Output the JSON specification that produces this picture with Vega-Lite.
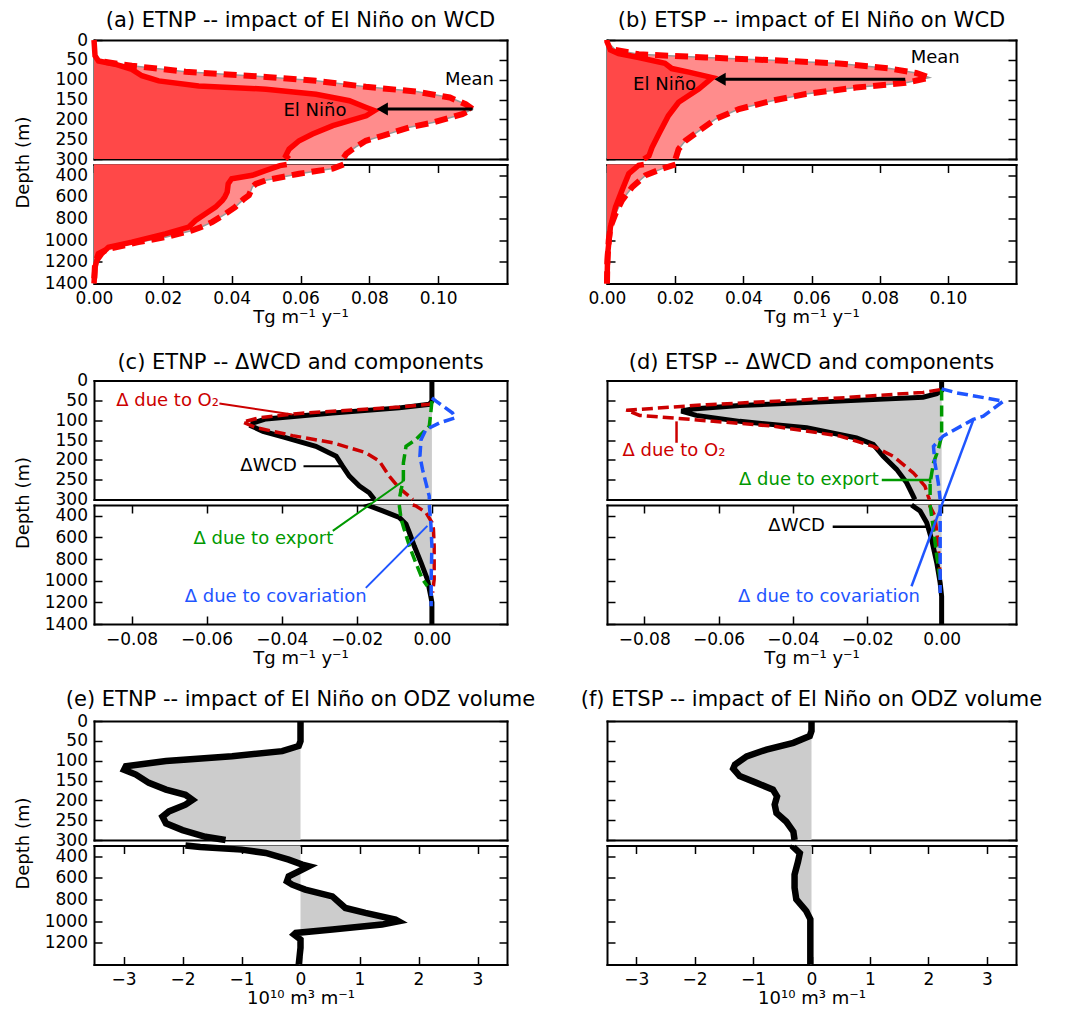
{
"$schema": "https://vega.github.io/schema/vega-lite/v6.json",
"padding": {"left": 14, "top": 10, "right": 5, "bottom": 5},
"background": "white",
"config": {
  "font": "DejaVu Sans",
  "view": {"stroke": null},
  "axis": {"domain": true, "domainColor": "black", "domainWidth": 2, "domainCap": "square", "grid": false, "tickSize": -8, "tickWidth": 1.5, "tickColor": "black", "labelFontSize": 17, "labelColor": "black", "labelFlush": false, "labelOverlap": false, "labelBound": false, "titleFontSize": 18, "titleFontWeight": "normal", "titleColor": "black", "zindex": 1},
  "axisY": {"labelPadding": 14.5},
  "axisX": {"labelPadding": 15, "titlePadding": 2},
  "title": {"fontSize": 21, "fontWeight": "normal", "color": "black", "frame": "group", "offset": -2, "anchor": "middle"},
  "text": {"fontSize": 18}
},
"datasets": {"rows": [
{"p":"a1","s":"mean","d":0,"v":0},{"p":"a1","s":"mean","d":45,"v":0},{"p":"a1","s":"mean","d":55,"v":0.003},{"p":"a1","s":"mean","d":65,"v":0.011},{"p":"a1","s":"mean","d":80,"v":0.0266},{"p":"a1","s":"mean","d":93,"v":0.05},{"p":"a1","s":"mean","d":103,"v":0.0645},{"p":"a1","s":"mean","d":118,"v":0.079},{"p":"a1","s":"mean","d":130,"v":0.0937},{"p":"a1","s":"mean","d":145,"v":0.1034},{"p":"a1","s":"mean","d":162,"v":0.108},{"p":"a1","s":"mean","d":174,"v":0.11},{"p":"a1","s":"mean","d":187,"v":0.107},{"p":"a1","s":"mean","d":208,"v":0.0985},{"p":"a1","s":"mean","d":220,"v":0.0917},{"p":"a1","s":"mean","d":241,"v":0.084},{"p":"a1","s":"mean","d":254,"v":0.079},{"p":"a1","s":"mean","d":270,"v":0.076},{"p":"a1","s":"mean","d":287,"v":0.0733},{"p":"a1","s":"mean","d":300,"v":0.0723},
{"p":"a1","s":"nino","d":0,"v":0},{"p":"a1","s":"nino","d":40,"v":0.0003},{"p":"a1","s":"nino","d":53,"v":0.0013},{"p":"a1","s":"nino","d":61,"v":0.0061},{"p":"a1","s":"nino","d":74,"v":0.011},{"p":"a1","s":"nino","d":90,"v":0.0139},{"p":"a1","s":"nino","d":103,"v":0.0188},{"p":"a1","s":"nino","d":116,"v":0.0304},{"p":"a1","s":"nino","d":124,"v":0.05},{"p":"a1","s":"nino","d":137,"v":0.0645},{"p":"a1","s":"nino","d":153,"v":0.0742},{"p":"a1","s":"nino","d":170,"v":0.0791},{"p":"a1","s":"nino","d":178,"v":0.0815},{"p":"a1","s":"nino","d":191,"v":0.0791},{"p":"a1","s":"nino","d":216,"v":0.0694},{"p":"a1","s":"nino","d":237,"v":0.0635},{"p":"a1","s":"nino","d":254,"v":0.0596},{"p":"a1","s":"nino","d":275,"v":0.0567},{"p":"a1","s":"nino","d":292,"v":0.0557},{"p":"a1","s":"nino","d":300,"v":0.0567},
{"p":"a2","s":"mean","d":300,"v":0.0725},{"p":"a2","s":"mean","d":338,"v":0.0694},{"p":"a2","s":"mean","d":385,"v":0.0596},{"p":"a2","s":"mean","d":415,"v":0.0548},{"p":"a2","s":"mean","d":446,"v":0.0499},{"p":"a2","s":"mean","d":480,"v":0.047},{"p":"a2","s":"mean","d":508,"v":0.046},{"p":"a2","s":"mean","d":550,"v":0.0455},{"p":"a2","s":"mean","d":585,"v":0.045},{"p":"a2","s":"mean","d":620,"v":0.0435},{"p":"a2","s":"mean","d":694,"v":0.041},{"p":"a2","s":"mean","d":760,"v":0.038},{"p":"a2","s":"mean","d":833,"v":0.0343},{"p":"a2","s":"mean","d":880,"v":0.031},{"p":"a2","s":"mean","d":910,"v":0.0285},{"p":"a2","s":"mean","d":972,"v":0.0207},{"p":"a2","s":"mean","d":1018,"v":0.0129},{"p":"a2","s":"mean","d":1080,"v":0.0042},{"p":"a2","s":"mean","d":1126,"v":0.0013},{"p":"a2","s":"mean","d":1219,"v":0.0003},{"p":"a2","s":"mean","d":1400,"v":0},
{"p":"a2","s":"nino","d":300,"v":0.056},{"p":"a2","s":"nino","d":310,"v":0.054},{"p":"a2","s":"nino","d":354,"v":0.05},{"p":"a2","s":"nino","d":400,"v":0.046},{"p":"a2","s":"nino","d":431,"v":0.04},{"p":"a2","s":"nino","d":477,"v":0.039},{"p":"a2","s":"nino","d":555,"v":0.0387},{"p":"a2","s":"nino","d":601,"v":0.038},{"p":"a2","s":"nino","d":632,"v":0.0373},{"p":"a2","s":"nino","d":694,"v":0.0353},{"p":"a2","s":"nino","d":755,"v":0.0324},{"p":"a2","s":"nino","d":817,"v":0.0295},{"p":"a2","s":"nino","d":879,"v":0.0275},{"p":"a2","s":"nino","d":941,"v":0.0207},{"p":"a2","s":"nino","d":1018,"v":0.011},{"p":"a2","s":"nino","d":1065,"v":0.0042},{"p":"a2","s":"nino","d":1126,"v":0.0022},{"p":"a2","s":"nino","d":1188,"v":0.0008},{"p":"a2","s":"nino","d":1250,"v":0.0003},{"p":"a2","s":"nino","d":1400,"v":0},
{"p":"b1","s":"mean","d":0,"v":0},{"p":"b1","s":"mean","d":4,"v":0},{"p":"b1","s":"mean","d":25,"v":0.0025},{"p":"b1","s":"mean","d":36,"v":0.0093},{"p":"b1","s":"mean","d":44,"v":0.029},{"p":"b1","s":"mean","d":51,"v":0.0485},{"p":"b1","s":"mean","d":59,"v":0.068},{"p":"b1","s":"mean","d":72,"v":0.083},{"p":"b1","s":"mean","d":83,"v":0.0907},{"p":"b1","s":"mean","d":95,"v":0.0946},{"p":"b1","s":"mean","d":108,"v":0.0877},{"p":"b1","s":"mean","d":120,"v":0.073},{"p":"b1","s":"mean","d":136,"v":0.0583},{"p":"b1","s":"mean","d":153,"v":0.0485},{"p":"b1","s":"mean","d":174,"v":0.0387},{"p":"b1","s":"mean","d":199,"v":0.0319},{"p":"b1","s":"mean","d":229,"v":0.027},{"p":"b1","s":"mean","d":254,"v":0.023},{"p":"b1","s":"mean","d":275,"v":0.021},{"p":"b1","s":"mean","d":300,"v":0.0201},
{"p":"b1","s":"nino","d":0,"v":0},{"p":"b1","s":"nino","d":4,"v":0},{"p":"b1","s":"nino","d":25,"v":0.001},{"p":"b1","s":"nino","d":34,"v":0.0034},{"p":"b1","s":"nino","d":44,"v":0.0093},{"p":"b1","s":"nino","d":59,"v":0.017},{"p":"b1","s":"nino","d":72,"v":0.019},{"p":"b1","s":"nino","d":81,"v":0.024},{"p":"b1","s":"nino","d":95,"v":0.0309},{"p":"b1","s":"nino","d":123,"v":0.027},{"p":"b1","s":"nino","d":157,"v":0.021},{"p":"b1","s":"nino","d":191,"v":0.018},{"p":"b1","s":"nino","d":237,"v":0.0152},{"p":"b1","s":"nino","d":271,"v":0.0132},{"p":"b1","s":"nino","d":292,"v":0.0123},{"p":"b1","s":"nino","d":300,"v":0.0108},
{"p":"b2","s":"mean","d":300,"v":0.0201},{"p":"b2","s":"mean","d":338,"v":0.0162},{"p":"b2","s":"mean","d":400,"v":0.0113},{"p":"b2","s":"mean","d":508,"v":0.0074},{"p":"b2","s":"mean","d":632,"v":0.0044},{"p":"b2","s":"mean","d":755,"v":0.0025},{"p":"b2","s":"mean","d":879,"v":0.001},{"p":"b2","s":"mean","d":1003,"v":0.0005},{"p":"b2","s":"mean","d":1200,"v":0.0001},{"p":"b2","s":"mean","d":1400,"v":0},
{"p":"b2","s":"nino","d":300,"v":0.0108},{"p":"b2","s":"nino","d":307,"v":0.0093},{"p":"b2","s":"nino","d":385,"v":0.0064},{"p":"b2","s":"nino","d":539,"v":0.0044},{"p":"b2","s":"nino","d":694,"v":0.0025},{"p":"b2","s":"nino","d":879,"v":0.001},{"p":"b2","s":"nino","d":1126,"v":0.0002},{"p":"b2","s":"nino","d":1400,"v":0},
{"p":"c1","s":"wcd","d":0,"v":0},{"p":"c1","s":"wcd","d":52,"v":0},{"p":"c1","s":"wcd","d":60,"v":-0.0007},{"p":"c1","s":"wcd","d":69,"v":-0.0087},{"p":"c1","s":"wcd","d":82,"v":-0.0264},{"p":"c1","s":"wcd","d":97,"v":-0.0442},{"p":"c1","s":"wcd","d":107,"v":-0.0477},{"p":"c1","s":"wcd","d":115,"v":-0.048},{"p":"c1","s":"wcd","d":128,"v":-0.045},{"p":"c1","s":"wcd","d":142,"v":-0.0397},{"p":"c1","s":"wcd","d":166,"v":-0.0309},{"p":"c1","s":"wcd","d":191,"v":-0.0255},{"p":"c1","s":"wcd","d":216,"v":-0.0238},{"p":"c1","s":"wcd","d":241,"v":-0.022},{"p":"c1","s":"wcd","d":266,"v":-0.0193},{"p":"c1","s":"wcd","d":283,"v":-0.0167},{"p":"c1","s":"wcd","d":300,"v":-0.0153},
{"p":"c1","s":"o2","d":58,"v":0},{"p":"c1","s":"o2","d":60,"v":-0.0007},{"p":"c1","s":"o2","d":67,"v":-0.0087},{"p":"c1","s":"o2","d":83,"v":-0.0353},{"p":"c1","s":"o2","d":94,"v":-0.046},{"p":"c1","s":"o2","d":105,"v":-0.0504},{"p":"c1","s":"o2","d":119,"v":-0.0468},{"p":"c1","s":"o2","d":139,"v":-0.0371},{"p":"c1","s":"o2","d":157,"v":-0.0264},{"p":"c1","s":"o2","d":182,"v":-0.0176},{"p":"c1","s":"o2","d":203,"v":-0.014},{"p":"c1","s":"o2","d":241,"v":-0.0114},{"p":"c1","s":"o2","d":271,"v":-0.0087},{"p":"c1","s":"o2","d":292,"v":-0.006},{"p":"c1","s":"o2","d":300,"v":-0.0051},
{"p":"c1","s":"exp","d":52,"v":0},{"p":"c1","s":"exp","d":82,"v":-0.0003},{"p":"c1","s":"exp","d":115,"v":-0.0007},{"p":"c1","s":"exp","d":149,"v":-0.0043},{"p":"c1","s":"exp","d":166,"v":-0.0069},{"p":"c1","s":"exp","d":208,"v":-0.0076},{"p":"c1","s":"exp","d":250,"v":-0.0076},{"p":"c1","s":"exp","d":275,"v":-0.0082},{"p":"c1","s":"exp","d":300,"v":-0.0087},
{"p":"c1","s":"cov","d":44,"v":0},{"p":"c1","s":"cov","d":52,"v":0.0011},{"p":"c1","s":"cov","d":82,"v":0.0055},{"p":"c1","s":"cov","d":94,"v":0.0062},{"p":"c1","s":"cov","d":107,"v":0.002},{"p":"c1","s":"cov","d":124,"v":-0.0016},{"p":"c1","s":"cov","d":149,"v":-0.0029},{"p":"c1","s":"cov","d":191,"v":-0.0032},{"p":"c1","s":"cov","d":224,"v":-0.0025},{"p":"c1","s":"cov","d":258,"v":-0.0016},{"p":"c1","s":"cov","d":292,"v":-0.0007},{"p":"c1","s":"cov","d":300,"v":-0.0007},
{"p":"c2","s":"wcd","d":300,"v":-0.016},{"p":"c2","s":"wcd","d":307,"v":-0.0167},{"p":"c2","s":"wcd","d":354,"v":-0.0131},{"p":"c2","s":"wcd","d":415,"v":-0.0087},{"p":"c2","s":"wcd","d":477,"v":-0.0069},{"p":"c2","s":"wcd","d":555,"v":-0.006},{"p":"c2","s":"wcd","d":679,"v":-0.0047},{"p":"c2","s":"wcd","d":833,"v":-0.0029},{"p":"c2","s":"wcd","d":988,"v":-0.0012},{"p":"c2","s":"wcd","d":1143,"v":-0.0003},{"p":"c2","s":"wcd","d":1200,"v":0},{"p":"c2","s":"wcd","d":1400,"v":0},
{"p":"c2","s":"o2","d":300,"v":-0.0051},{"p":"c2","s":"o2","d":307,"v":-0.0043},{"p":"c2","s":"o2","d":369,"v":-0.0016},{"p":"c2","s":"o2","d":462,"v":0},{"p":"c2","s":"o2","d":520,"v":0.0004},{"p":"c2","s":"o2","d":679,"v":0.0006},{"p":"c2","s":"o2","d":988,"v":0.0006},{"p":"c2","s":"o2","d":1080,"v":0.0003},{"p":"c2","s":"o2","d":1110,"v":0.0002},
{"p":"c2","s":"exp","d":300,"v":-0.0087},{"p":"c2","s":"exp","d":431,"v":-0.0082},{"p":"c2","s":"exp","d":524,"v":-0.0074},{"p":"c2","s":"exp","d":679,"v":-0.006},{"p":"c2","s":"exp","d":833,"v":-0.0043},{"p":"c2","s":"exp","d":988,"v":-0.0025},{"p":"c2","s":"exp","d":1050,"v":-0.0012},
{"p":"c2","s":"cov","d":300,"v":-0.0007},{"p":"c2","s":"cov","d":462,"v":-0.0003},{"p":"c2","s":"cov","d":679,"v":0},{"p":"c2","s":"cov","d":988,"v":-0.0002},{"p":"c2","s":"cov","d":1236,"v":-0.0002},
{"p":"d1","s":"wcd","d":0,"v":0},{"p":"d1","s":"wcd","d":25,"v":0},{"p":"d1","s":"wcd","d":33,"v":-0.0013},{"p":"d1","s":"wcd","d":42,"v":-0.005},{"p":"d1","s":"wcd","d":52,"v":-0.0274},{"p":"d1","s":"wcd","d":63,"v":-0.0543},{"p":"d1","s":"wcd","d":72,"v":-0.067},{"p":"d1","s":"wcd","d":77,"v":-0.07},{"p":"d1","s":"wcd","d":88,"v":-0.066},{"p":"d1","s":"wcd","d":103,"v":-0.0543},{"p":"d1","s":"wcd","d":119,"v":-0.0363},{"p":"d1","s":"wcd","d":145,"v":-0.0229},{"p":"d1","s":"wcd","d":161,"v":-0.0184},{"p":"d1","s":"wcd","d":191,"v":-0.0157},{"p":"d1","s":"wcd","d":224,"v":-0.0121},{"p":"d1","s":"wcd","d":258,"v":-0.0094},{"p":"d1","s":"wcd","d":292,"v":-0.0076},{"p":"d1","s":"wcd","d":300,"v":-0.0072},
{"p":"d1","s":"o2","d":23,"v":-0.0004},{"p":"d1","s":"o2","d":30,"v":-0.005},{"p":"d1","s":"o2","d":44,"v":-0.0274},{"p":"d1","s":"o2","d":61,"v":-0.0632},{"p":"d1","s":"o2","d":75,"v":-0.0848},{"p":"d1","s":"o2","d":88,"v":-0.0812},{"p":"d1","s":"o2","d":98,"v":-0.0677},{"p":"d1","s":"o2","d":115,"v":-0.0453},{"p":"d1","s":"o2","d":140,"v":-0.0274},{"p":"d1","s":"o2","d":166,"v":-0.0184},{"p":"d1","s":"o2","d":191,"v":-0.013},{"p":"d1","s":"o2","d":233,"v":-0.0076},{"p":"d1","s":"o2","d":266,"v":-0.0045},{"p":"d1","s":"o2","d":292,"v":-0.0036},{"p":"d1","s":"o2","d":300,"v":-0.0033},
{"p":"d1","s":"exp","d":23,"v":0},{"p":"d1","s":"exp","d":140,"v":0},{"p":"d1","s":"exp","d":174,"v":-0.0009},{"p":"d1","s":"exp","d":208,"v":-0.0022},{"p":"d1","s":"exp","d":258,"v":-0.0031},{"p":"d1","s":"exp","d":300,"v":-0.0031},
{"p":"d1","s":"cov","d":21,"v":0},{"p":"d1","s":"cov","d":31,"v":0.004},{"p":"d1","s":"cov","d":52,"v":0.0166},{"p":"d1","s":"cov","d":90,"v":0.0112},{"p":"d1","s":"cov","d":98,"v":0.0085},{"p":"d1","s":"cov","d":140,"v":0.0004},{"p":"d1","s":"cov","d":166,"v":-0.0022},{"p":"d1","s":"cov","d":208,"v":-0.0018},{"p":"d1","s":"cov","d":258,"v":-0.0009},{"p":"d1","s":"cov","d":300,"v":-0.0004},
{"p":"d2","s":"wcd","d":300,"v":-0.0081},{"p":"d2","s":"wcd","d":356,"v":-0.0058},{"p":"d2","s":"wcd","d":464,"v":-0.004},{"p":"d2","s":"wcd","d":618,"v":-0.0027},{"p":"d2","s":"wcd","d":835,"v":-0.0013},{"p":"d2","s":"wcd","d":1020,"v":-0.0004},{"p":"d2","s":"wcd","d":1144,"v":0},{"p":"d2","s":"wcd","d":1400,"v":0},
{"p":"d2","s":"o2","d":300,"v":-0.0033},{"p":"d2","s":"o2","d":402,"v":-0.0018},{"p":"d2","s":"o2","d":680,"v":-0.0009},{"p":"d2","s":"o2","d":958,"v":-0.0004},
{"p":"d2","s":"exp","d":300,"v":-0.0031},{"p":"d2","s":"exp","d":525,"v":-0.0022},{"p":"d2","s":"exp","d":773,"v":-0.0013},{"p":"d2","s":"exp","d":989,"v":-0.0004},
{"p":"d2","s":"cov","d":300,"v":-0.0004},{"p":"d2","s":"cov","d":680,"v":-0.0004},{"p":"d2","s":"cov","d":1113,"v":-0.0004},
{"p":"e1","s":"odz","d":0,"v":0},{"p":"e1","s":"odz","d":51,"v":0},{"p":"e1","s":"odz","d":63,"v":-0.03},{"p":"e1","s":"odz","d":76,"v":-0.31},{"p":"e1","s":"odz","d":89,"v":-1.16},{"p":"e1","s":"odz","d":101,"v":-2.28},{"p":"e1","s":"odz","d":114,"v":-2.96},{"p":"e1","s":"odz","d":123,"v":-2.99},{"p":"e1","s":"odz","d":135,"v":-2.79},{"p":"e1","s":"odz","d":156,"v":-2.57},{"p":"e1","s":"odz","d":173,"v":-2.28},{"p":"e1","s":"odz","d":186,"v":-1.95},{"p":"e1","s":"odz","d":199,"v":-1.83},{"p":"e1","s":"odz","d":211,"v":-1.95},{"p":"e1","s":"odz","d":228,"v":-2.23},{"p":"e1","s":"odz","d":241,"v":-2.34},{"p":"e1","s":"odz","d":258,"v":-2.28},{"p":"e1","s":"odz","d":275,"v":-2.0},{"p":"e1","s":"odz","d":292,"v":-1.61},{"p":"e1","s":"odz","d":300,"v":-1.27},
{"p":"e2","s":"odz","d":300,"v":-1.95},{"p":"e2","s":"odz","d":314,"v":-1.7},{"p":"e2","s":"odz","d":338,"v":-1.0},{"p":"e2","s":"odz","d":369,"v":-0.59},{"p":"e2","s":"odz","d":431,"v":-0.2},{"p":"e2","s":"odz","d":477,"v":0.03},{"p":"e2","s":"odz","d":492,"v":0.14},{"p":"e2","s":"odz","d":539,"v":-0.03},{"p":"e2","s":"odz","d":585,"v":-0.2},{"p":"e2","s":"odz","d":631,"v":-0.23},{"p":"e2","s":"odz","d":662,"v":-0.14},{"p":"e2","s":"odz","d":708,"v":0.08},{"p":"e2","s":"odz","d":770,"v":0.54},{"p":"e2","s":"odz","d":877,"v":0.76},{"p":"e2","s":"odz","d":923,"v":1.1},{"p":"e2","s":"odz","d":985,"v":1.61},{"p":"e2","s":"odz","d":1000,"v":1.66},{"p":"e2","s":"odz","d":1031,"v":1.38},{"p":"e2","s":"odz","d":1077,"v":0.54},{"p":"e2","s":"odz","d":1108,"v":-0.08},{"p":"e2","s":"odz","d":1123,"v":-0.11},{"p":"e2","s":"odz","d":1169,"v":0},{"p":"e2","s":"odz","d":1246,"v":0},{"p":"e2","s":"odz","d":1400,"v":-0.03},
{"p":"f1","s":"odz","d":0,"v":0},{"p":"f1","s":"odz","d":25,"v":0},{"p":"f1","s":"odz","d":38,"v":-0.03},{"p":"f1","s":"odz","d":55,"v":-0.31},{"p":"f1","s":"odz","d":72,"v":-0.77},{"p":"f1","s":"odz","d":89,"v":-1.11},{"p":"f1","s":"odz","d":110,"v":-1.31},{"p":"f1","s":"odz","d":120,"v":-1.34},{"p":"f1","s":"odz","d":139,"v":-1.23},{"p":"f1","s":"odz","d":156,"v":-0.94},{"p":"f1","s":"odz","d":173,"v":-0.66},{"p":"f1","s":"odz","d":190,"v":-0.59},{"p":"f1","s":"odz","d":211,"v":-0.63},{"p":"f1","s":"odz","d":232,"v":-0.6},{"p":"f1","s":"odz","d":254,"v":-0.43},{"p":"f1","s":"odz","d":279,"v":-0.31},{"p":"f1","s":"odz","d":300,"v":-0.29},
{"p":"f2","s":"odz","d":300,"v":-0.3},{"p":"f2","s":"odz","d":315,"v":-0.31},{"p":"f2","s":"odz","d":370,"v":-0.2},{"p":"f2","s":"odz","d":447,"v":-0.23},{"p":"f2","s":"odz","d":569,"v":-0.29},{"p":"f2","s":"odz","d":691,"v":-0.29},{"p":"f2","s":"odz","d":798,"v":-0.26},{"p":"f2","s":"odz","d":905,"v":-0.09},{"p":"f2","s":"odz","d":981,"v":-0.02},{"p":"f2","s":"odz","d":1119,"v":-0.02},{"p":"f2","s":"odz","d":1400,"v":-0.02},
{"p":"a1","k":"arrow","s":"note","v":0.11,"d":174,"v2":0.085,"d2":174},
{"p":"a1","k":"head","s":"note","v":0.082,"d":174},
{"p":"a1","k":"text","s":"note","t":"El Niño","v":0.0642,"d":178},
{"p":"a1","k":"text","s":"note","t":"Mean","v":0.1091,"d":100},
{"p":"b1","k":"arrow","s":"note","v":0.0875,"d":99,"v2":0.034,"d2":99},
{"p":"b1","k":"head","s":"note","v":0.0314,"d":99},
{"p":"b1","k":"text","s":"note","t":"El Niño","v":0.0169,"d":114},
{"p":"b1","k":"text","s":"note","t":"Mean","v":0.0963,"d":45},
{"p":"c1","k":"text","s":"o2","t":"Δ due to O₂","v":-0.0704,"d":52},
{"p":"c1","k":"lead","s":"o2","v":-0.0566,"d":58,"v2":-0.0371,"d2":86},
{"p":"c1","k":"text","s":"wcd","t":"ΔWCD","v":-0.0435,"d":216},
{"p":"c1","k":"lead","s":"wcd","v":-0.0342,"d":216,"v2":-0.0238,"d2":216},
{"p":"c2","k":"text","s":"exp","t":"Δ due to export","v":-0.0449,"d":617},
{"p":"c2","k":"lead","s":"exp","v":-0.0264,"d":539,"v2":-0.0076,"d2":78},
{"p":"c2","k":"text","s":"cov","t":"Δ due to covariation","v":-0.0416,"d":1152},
{"p":"c2","k":"lead","s":"cov","v":-0.0176,"d":1066,"v2":-0.0012,"d2":493},
{"p":"d1","k":"text","s":"o2","t":"Δ due to O₂","v":-0.072,"d":178},
{"p":"d1","k":"lead","s":"o2","v":-0.0713,"d":103,"v2":-0.0713,"d2":157},
{"p":"d1","k":"text","s":"exp","t":"Δ due to export","v":-0.0357,"d":251},
{"p":"d1","k":"lead","s":"exp","v":-0.0161,"d":251,"v2":-0.0031,"d2":251},
{"p":"d1","k":"lead","s":"exp","v":-0.0031,"d":245,"v2":-0.0031,"d2":259},
{"p":"d2","k":"text","s":"wcd","t":"ΔWCD","v":-0.039,"d":495},
{"p":"d2","k":"lead","s":"wcd","v":-0.0293,"d":501,"v2":-0.004,"d2":501},
{"p":"d2","k":"text","s":"cov","t":"Δ due to covariation","v":-0.0303,"d":1153},
{"p":"d2","k":"lead","s":"cov","v":-0.0081,"d":1051,"v2":0.0085,"d2":-485}
]},
"columns": 2,
"bounds": "flush",
"align": "each",
"spacing": {"row": 5.5, "column": 100},
"concat": [
{"width": 413, "height": 119, "title": {"text": "(a) ETNP -- impact of El Niño on WCD"},
 "data": {"name": "rows"}, "transform": [{"filter": "datum.p=='a1'"}],
 "resolve": {"axis": {"x": "independent", "y": "independent"}},
 "layer": [
  {"transform": [{"filter": "datum.s=='mean' && !datum.k"}], "mark": {"type": "area", "orient": "horizontal", "color": "#ff8c8c"},
   "encoding": {"y": {"field": "d", "type": "quantitative", "scale": {"domain": [0,300], "reverse": true, "nice": false, "zero": false}, "axis": {"orient": "left", "values": [0,50,100,150,200,250,300], "format": "d", "title": "Depth (m)", "titleX": -62, "titleY": 122}},
    "x": {"field": "v", "type": "quantitative", "stack": "zero", "scale": {"domain": [0,0.12], "nice": false, "zero": false}, "axis": {"orient": "bottom", "ticks": false, "labels": false, "title": null}}}},
  {"transform": [{"filter": "datum.s=='nino' && !datum.k"}], "mark": {"type": "area", "orient": "horizontal", "color": "#ff4848"},
   "encoding": {"y": {"field": "d", "type": "quantitative", "axis": {"orient": "right", "values": [0,50,100,150,200,250,300], "labels": false, "title": null}},
    "x": {"field": "v", "type": "quantitative", "stack": "zero", "axis": {"orient": "top", "ticks": false, "labels": false, "title": null}}}},
  {"transform": [{"filter": "datum.s=='mean' && !datum.k"}], "mark": {"type": "line", "orient": "horizontal", "color": "#999999", "strokeWidth": 1.5},
   "encoding": {"y": {"field": "d", "type": "quantitative", "axis": null}, "x": {"field": "v", "type": "quantitative", "axis": null}, "order": {"field": "d", "type": "quantitative"}}},
  {"transform": [{"filter": "datum.s=='mean' && !datum.k && datum.d>=55"}], "mark": {"type": "line", "orient": "horizontal", "color": "#ff0000", "strokeWidth": 6, "strokeDash": [13,7]},
   "encoding": {"y": {"field": "d", "type": "quantitative", "axis": null}, "x": {"field": "v", "type": "quantitative", "axis": null}, "order": {"field": "d", "type": "quantitative"}}},
  {"transform": [{"filter": "datum.s=='nino' && !datum.k"}], "mark": {"type": "line", "orient": "horizontal", "color": "#ff0000", "strokeWidth": 5.5},
   "encoding": {"y": {"field": "d", "type": "quantitative", "axis": null}, "x": {"field": "v", "type": "quantitative", "axis": null}, "order": {"field": "d", "type": "quantitative"}}},
  {"transform": [{"filter": "datum.k=='arrow'"}], "mark": {"type": "rule", "color": "black", "strokeWidth": 3},
   "encoding": {"y": {"field": "d", "type": "quantitative", "axis": null}, "y2": {"field": "d2"}, "x": {"field": "v", "type": "quantitative", "axis": null}, "x2": {"field": "v2"}}},
  {"transform": [{"filter": "datum.k=='head'"}], "mark": {"type": "point", "shape": "triangle-left", "size": 170, "filled": true, "opacity": 1, "color": "black", "xOffset": 6},
   "encoding": {"y": {"field": "d", "type": "quantitative", "axis": null}, "x": {"field": "v", "type": "quantitative", "axis": null}}},
  {"transform": [{"filter": "datum.k=='text'"}], "mark": {"type": "text", "fontSize": 18, "align": "center", "baseline": "middle", "color": "black"},
   "encoding": {"y": {"field": "d", "type": "quantitative", "axis": null}, "x": {"field": "v", "type": "quantitative", "axis": null}, "text": {"field": "t"}}}
 ]},
{"width": 409, "height": 119, "title": {"text": "(b) ETSP -- impact of El Niño on WCD"},
 "data": {"name": "rows"}, "transform": [{"filter": "datum.p=='b1'"}],
 "resolve": {"axis": {"x": "independent", "y": "independent"}},
 "layer": [
  {"transform": [{"filter": "datum.s=='mean' && !datum.k"}], "mark": {"type": "area", "orient": "horizontal", "color": "#ff8c8c"},
   "encoding": {"y": {"field": "d", "type": "quantitative", "scale": {"domain": [0,300], "reverse": true, "nice": false, "zero": false}, "axis": {"orient": "left", "values": [0,50,100,150,200,250,300], "labels": false, "title": null}},
    "x": {"field": "v", "type": "quantitative", "stack": "zero", "scale": {"domain": [0,0.12], "nice": false, "zero": false}, "axis": {"orient": "bottom", "ticks": false, "labels": false, "title": null}}}},
  {"transform": [{"filter": "datum.s=='nino' && !datum.k"}], "mark": {"type": "area", "orient": "horizontal", "color": "#ff4848"},
   "encoding": {"y": {"field": "d", "type": "quantitative", "axis": {"orient": "right", "values": [0,50,100,150,200,250,300], "labels": false, "title": null}},
    "x": {"field": "v", "type": "quantitative", "stack": "zero", "axis": {"orient": "top", "ticks": false, "labels": false, "title": null}}}},
  {"transform": [{"filter": "datum.s=='mean' && !datum.k"}], "mark": {"type": "line", "orient": "horizontal", "color": "#999999", "strokeWidth": 1.5},
   "encoding": {"y": {"field": "d", "type": "quantitative", "axis": null}, "x": {"field": "v", "type": "quantitative", "axis": null}, "order": {"field": "d", "type": "quantitative"}}},
  {"transform": [{"filter": "datum.s=='mean' && !datum.k && datum.d>=20"}], "mark": {"type": "line", "orient": "horizontal", "color": "#ff0000", "strokeWidth": 6, "strokeDash": [13,7]},
   "encoding": {"y": {"field": "d", "type": "quantitative", "axis": null}, "x": {"field": "v", "type": "quantitative", "axis": null}, "order": {"field": "d", "type": "quantitative"}}},
  {"transform": [{"filter": "datum.s=='nino' && !datum.k"}], "mark": {"type": "line", "orient": "horizontal", "color": "#ff0000", "strokeWidth": 5.5},
   "encoding": {"y": {"field": "d", "type": "quantitative", "axis": null}, "x": {"field": "v", "type": "quantitative", "axis": null}, "order": {"field": "d", "type": "quantitative"}}},
  {"transform": [{"filter": "datum.k=='arrow'"}], "mark": {"type": "rule", "color": "black", "strokeWidth": 3},
   "encoding": {"y": {"field": "d", "type": "quantitative", "axis": null}, "y2": {"field": "d2"}, "x": {"field": "v", "type": "quantitative", "axis": null}, "x2": {"field": "v2"}}},
  {"transform": [{"filter": "datum.k=='head'"}], "mark": {"type": "point", "shape": "triangle-left", "size": 170, "filled": true, "opacity": 1, "color": "black", "xOffset": 6},
   "encoding": {"y": {"field": "d", "type": "quantitative", "axis": null}, "x": {"field": "v", "type": "quantitative", "axis": null}}},
  {"transform": [{"filter": "datum.k=='text'"}], "mark": {"type": "text", "fontSize": 18, "align": "center", "baseline": "middle", "color": "black"},
   "encoding": {"y": {"field": "d", "type": "quantitative", "axis": null}, "x": {"field": "v", "type": "quantitative", "axis": null}, "text": {"field": "t"}}}
 ]},
{"width": 413, "height": 119,
 "data": {"name": "rows"}, "transform": [{"filter": "datum.p=='a2'"}],
 "resolve": {"axis": {"x": "independent", "y": "independent"}},
 "layer": [
  {"transform": [{"filter": "datum.s=='mean' && !datum.k"}], "mark": {"type": "area", "orient": "horizontal", "color": "#ff8c8c"},
   "encoding": {"y": {"field": "d", "type": "quantitative", "scale": {"domain": [300,1400], "reverse": true, "nice": false, "zero": false}, "axis": {"orient": "left", "values": [400,600,800,1000,1200,1400], "format": "d", "title": null}},
    "x": {"field": "v", "type": "quantitative", "stack": "zero", "scale": {"domain": [0,0.12], "nice": false, "zero": false}, "axis": {"orient": "bottom", "values": [0,0.02,0.04,0.06,0.08,0.1], "format": ".2f", "title": "Tg m⁻¹ y⁻¹"}}}},
  {"transform": [{"filter": "datum.s=='nino' && !datum.k"}], "mark": {"type": "area", "orient": "horizontal", "color": "#ff4848"},
   "encoding": {"y": {"field": "d", "type": "quantitative", "axis": {"orient": "right", "values": [400,600,800,1000,1200,1400], "labels": false, "title": null}},
    "x": {"field": "v", "type": "quantitative", "stack": "zero", "axis": {"orient": "top", "values": [0,0.02,0.04,0.06,0.08,0.1], "labels": false, "title": null}}}},
  {"transform": [{"filter": "datum.s=='mean' && !datum.k"}], "mark": {"type": "line", "orient": "horizontal", "color": "#999999", "strokeWidth": 1.5},
   "encoding": {"y": {"field": "d", "type": "quantitative", "axis": null}, "x": {"field": "v", "type": "quantitative", "axis": null}, "order": {"field": "d", "type": "quantitative"}}},
  {"transform": [{"filter": "datum.s=='mean' && !datum.k"}], "mark": {"type": "line", "orient": "horizontal", "color": "#ff0000", "strokeWidth": 6, "strokeDash": [13,7]},
   "encoding": {"y": {"field": "d", "type": "quantitative", "axis": null}, "x": {"field": "v", "type": "quantitative", "axis": null}, "order": {"field": "d", "type": "quantitative"}}},
  {"transform": [{"filter": "datum.s=='nino' && !datum.k"}], "mark": {"type": "line", "orient": "horizontal", "color": "#ff0000", "strokeWidth": 5.5},
   "encoding": {"y": {"field": "d", "type": "quantitative", "axis": null}, "x": {"field": "v", "type": "quantitative", "axis": null}, "order": {"field": "d", "type": "quantitative"}}}
 ]},
{"width": 409, "height": 119,
 "data": {"name": "rows"}, "transform": [{"filter": "datum.p=='b2'"}],
 "resolve": {"axis": {"x": "independent", "y": "independent"}},
 "layer": [
  {"transform": [{"filter": "datum.s=='mean' && !datum.k"}], "mark": {"type": "area", "orient": "horizontal", "color": "#ff8c8c"},
   "encoding": {"y": {"field": "d", "type": "quantitative", "scale": {"domain": [300,1400], "reverse": true, "nice": false, "zero": false}, "axis": {"orient": "left", "values": [400,600,800,1000,1200,1400], "labels": false, "title": null}},
    "x": {"field": "v", "type": "quantitative", "stack": "zero", "scale": {"domain": [0,0.12], "nice": false, "zero": false}, "axis": {"orient": "bottom", "values": [0,0.02,0.04,0.06,0.08,0.1], "format": ".2f", "title": "Tg m⁻¹ y⁻¹"}}}},
  {"transform": [{"filter": "datum.s=='nino' && !datum.k"}], "mark": {"type": "area", "orient": "horizontal", "color": "#ff4848"},
   "encoding": {"y": {"field": "d", "type": "quantitative", "axis": {"orient": "right", "values": [400,600,800,1000,1200,1400], "labels": false, "title": null}},
    "x": {"field": "v", "type": "quantitative", "stack": "zero", "axis": {"orient": "top", "values": [0,0.02,0.04,0.06,0.08,0.1], "labels": false, "title": null}}}},
  {"transform": [{"filter": "datum.s=='mean' && !datum.k"}], "mark": {"type": "line", "orient": "horizontal", "color": "#999999", "strokeWidth": 1.5},
   "encoding": {"y": {"field": "d", "type": "quantitative", "axis": null}, "x": {"field": "v", "type": "quantitative", "axis": null}, "order": {"field": "d", "type": "quantitative"}}},
  {"transform": [{"filter": "datum.s=='mean' && !datum.k"}], "mark": {"type": "line", "orient": "horizontal", "color": "#ff0000", "strokeWidth": 6, "strokeDash": [13,7]},
   "encoding": {"y": {"field": "d", "type": "quantitative", "axis": null}, "x": {"field": "v", "type": "quantitative", "axis": null}, "order": {"field": "d", "type": "quantitative"}}},
  {"transform": [{"filter": "datum.s=='nino' && !datum.k"}], "mark": {"type": "line", "orient": "horizontal", "color": "#ff0000", "strokeWidth": 5.5},
   "encoding": {"y": {"field": "d", "type": "quantitative", "axis": null}, "x": {"field": "v", "type": "quantitative", "axis": null}, "order": {"field": "d", "type": "quantitative"}}}
 ]},
{"width": 10, "height": 86, "data": {"values": [{"z": 0}]}, "mark": {"type": "point", "opacity": 0}, "encoding": {}},
{"width": 10, "height": 86, "data": {"values": [{"z": 0}]}, "mark": {"type": "point", "opacity": 0}, "encoding": {}},
{"width": 413, "height": 119, "title": {"text": "(c) ETNP -- ΔWCD and components"},
 "data": {"name": "rows"}, "transform": [{"filter": "datum.p=='c1'"}],
 "resolve": {"axis": {"x": "independent", "y": "independent"}},
 "layer": [
  {"transform": [{"filter": "datum.s=='wcd' && !datum.k"}], "mark": {"type": "area", "orient": "horizontal", "color": "#cccccc"},
   "encoding": {"y": {"field": "d", "type": "quantitative", "scale": {"domain": [0,300], "reverse": true, "nice": false, "zero": false}, "axis": {"orient": "left", "values": [0,50,100,150,200,250,300], "format": "d", "title": "Depth (m)", "titleX": -62, "titleY": 122}},
    "x": {"field": "v", "type": "quantitative", "stack": "zero", "scale": {"domain": [-0.09,0.02], "nice": false, "zero": false}, "axis": {"orient": "bottom", "ticks": false, "labels": false, "title": null}}}},
  {"transform": [{"filter": "datum.s=='wcd' && !datum.k"}], "mark": {"type": "line", "orient": "horizontal", "color": "black", "strokeWidth": 5},
   "encoding": {"y": {"field": "d", "type": "quantitative", "axis": {"orient": "right", "values": [0,50,100,150,200,250,300], "labels": false, "title": null}},
    "x": {"field": "v", "type": "quantitative", "axis": {"orient": "top", "ticks": false, "labels": false, "title": null}}, "order": {"field": "d", "type": "quantitative"}}},
  {"transform": [{"filter": "datum.s=='o2' && !datum.k"}], "mark": {"type": "line", "orient": "horizontal", "color": "#cc0000", "strokeWidth": 3.5, "strokeDash": [11,5]},
   "encoding": {"y": {"field": "d", "type": "quantitative", "axis": null}, "x": {"field": "v", "type": "quantitative", "axis": null}, "order": {"field": "d", "type": "quantitative"}}},
  {"transform": [{"filter": "datum.s=='exp' && !datum.k"}], "mark": {"type": "line", "orient": "horizontal", "color": "#009900", "strokeWidth": 3.5, "strokeDash": [11,5]},
   "encoding": {"y": {"field": "d", "type": "quantitative", "axis": null}, "x": {"field": "v", "type": "quantitative", "axis": null}, "order": {"field": "d", "type": "quantitative"}}},
  {"transform": [{"filter": "datum.s=='cov' && !datum.k"}], "mark": {"type": "line", "orient": "horizontal", "color": "#1f55ff", "strokeWidth": 3.5, "strokeDash": [11,5]},
   "encoding": {"y": {"field": "d", "type": "quantitative", "axis": null}, "x": {"field": "v", "type": "quantitative", "axis": null}, "order": {"field": "d", "type": "quantitative"}}},
  {"transform": [{"filter": "datum.k=='lead'"}], "mark": {"type": "rule", "strokeWidth": 2},
   "encoding": {"y": {"field": "d", "type": "quantitative", "axis": null}, "y2": {"field": "d2"}, "x": {"field": "v", "type": "quantitative", "axis": null}, "x2": {"field": "v2"},
    "color": {"field": "s", "type": "nominal", "scale": {"domain": ["note","wcd","o2","exp","cov"], "range": ["#000000","#000000","#cc0000","#009900","#1f55ff"]}, "legend": null}}},
  {"transform": [{"filter": "datum.k=='text'"}], "mark": {"type": "text", "fontSize": 18, "align": "center", "baseline": "middle"},
   "encoding": {"y": {"field": "d", "type": "quantitative", "axis": null}, "x": {"field": "v", "type": "quantitative", "axis": null}, "text": {"field": "t"},
    "color": {"field": "s", "type": "nominal", "scale": {"domain": ["note","wcd","o2","exp","cov"], "range": ["#000000","#000000","#cc0000","#009900","#1f55ff"]}, "legend": null}}}
 ]},
{"width": 409, "height": 119, "title": {"text": "(d) ETSP -- ΔWCD and components"},
 "data": {"name": "rows"}, "transform": [{"filter": "datum.p=='d1'"}],
 "resolve": {"axis": {"x": "independent", "y": "independent"}},
 "layer": [
  {"transform": [{"filter": "datum.s=='wcd' && !datum.k"}], "mark": {"type": "area", "orient": "horizontal", "color": "#cccccc"},
   "encoding": {"y": {"field": "d", "type": "quantitative", "scale": {"domain": [0,300], "reverse": true, "nice": false, "zero": false}, "axis": {"orient": "left", "values": [0,50,100,150,200,250,300], "labels": false, "title": null}},
    "x": {"field": "v", "type": "quantitative", "stack": "zero", "scale": {"domain": [-0.09,0.02], "nice": false, "zero": false}, "axis": {"orient": "bottom", "ticks": false, "labels": false, "title": null}}}},
  {"transform": [{"filter": "datum.s=='wcd' && !datum.k"}], "mark": {"type": "line", "orient": "horizontal", "color": "black", "strokeWidth": 5},
   "encoding": {"y": {"field": "d", "type": "quantitative", "axis": {"orient": "right", "values": [0,50,100,150,200,250,300], "labels": false, "title": null}},
    "x": {"field": "v", "type": "quantitative", "axis": {"orient": "top", "ticks": false, "labels": false, "title": null}}, "order": {"field": "d", "type": "quantitative"}}},
  {"transform": [{"filter": "datum.s=='o2' && !datum.k"}], "mark": {"type": "line", "orient": "horizontal", "color": "#cc0000", "strokeWidth": 3.5, "strokeDash": [11,5]},
   "encoding": {"y": {"field": "d", "type": "quantitative", "axis": null}, "x": {"field": "v", "type": "quantitative", "axis": null}, "order": {"field": "d", "type": "quantitative"}}},
  {"transform": [{"filter": "datum.s=='exp' && !datum.k"}], "mark": {"type": "line", "orient": "horizontal", "color": "#009900", "strokeWidth": 3.5, "strokeDash": [11,5]},
   "encoding": {"y": {"field": "d", "type": "quantitative", "axis": null}, "x": {"field": "v", "type": "quantitative", "axis": null}, "order": {"field": "d", "type": "quantitative"}}},
  {"transform": [{"filter": "datum.s=='cov' && !datum.k"}], "mark": {"type": "line", "orient": "horizontal", "color": "#1f55ff", "strokeWidth": 3.5, "strokeDash": [11,5]},
   "encoding": {"y": {"field": "d", "type": "quantitative", "axis": null}, "x": {"field": "v", "type": "quantitative", "axis": null}, "order": {"field": "d", "type": "quantitative"}}},
  {"transform": [{"filter": "datum.k=='lead'"}], "mark": {"type": "rule", "strokeWidth": 2.5},
   "encoding": {"y": {"field": "d", "type": "quantitative", "axis": null}, "y2": {"field": "d2"}, "x": {"field": "v", "type": "quantitative", "axis": null}, "x2": {"field": "v2"},
    "color": {"field": "s", "type": "nominal", "scale": {"domain": ["note","wcd","o2","exp","cov"], "range": ["#000000","#000000","#cc0000","#009900","#1f55ff"]}, "legend": null}}},
  {"transform": [{"filter": "datum.k=='text'"}], "mark": {"type": "text", "fontSize": 18, "align": "center", "baseline": "middle"},
   "encoding": {"y": {"field": "d", "type": "quantitative", "axis": null}, "x": {"field": "v", "type": "quantitative", "axis": null}, "text": {"field": "t"},
    "color": {"field": "s", "type": "nominal", "scale": {"domain": ["note","wcd","o2","exp","cov"], "range": ["#000000","#000000","#cc0000","#009900","#1f55ff"]}, "legend": null}}}
 ]},
{"width": 413, "height": 119,
 "data": {"name": "rows"}, "transform": [{"filter": "datum.p=='c2'"}],
 "resolve": {"axis": {"x": "independent", "y": "independent"}},
 "layer": [
  {"transform": [{"filter": "datum.s=='wcd' && !datum.k"}], "mark": {"type": "area", "orient": "horizontal", "color": "#cccccc"},
   "encoding": {"y": {"field": "d", "type": "quantitative", "scale": {"domain": [300,1400], "reverse": true, "nice": false, "zero": false}, "axis": {"orient": "left", "values": [400,600,800,1000,1200,1400], "format": "d", "title": null}},
    "x": {"field": "v", "type": "quantitative", "stack": "zero", "scale": {"domain": [-0.09,0.02], "nice": false, "zero": false}, "axis": {"orient": "bottom", "values": [-0.08,-0.06,-0.04,-0.02,0], "format": ".2f", "title": "Tg m⁻¹ y⁻¹"}}}},
  {"transform": [{"filter": "datum.s=='wcd' && !datum.k"}], "mark": {"type": "line", "orient": "horizontal", "color": "black", "strokeWidth": 5},
   "encoding": {"y": {"field": "d", "type": "quantitative", "axis": {"orient": "right", "values": [400,600,800,1000,1200,1400], "labels": false, "title": null}},
    "x": {"field": "v", "type": "quantitative", "axis": {"orient": "top", "values": [-0.08,-0.06,-0.04,-0.02,0], "labels": false, "title": null}}, "order": {"field": "d", "type": "quantitative"}}},
  {"transform": [{"filter": "datum.s=='o2' && !datum.k"}], "mark": {"type": "line", "orient": "horizontal", "color": "#cc0000", "strokeWidth": 3.5, "strokeDash": [11,5]},
   "encoding": {"y": {"field": "d", "type": "quantitative", "axis": null}, "x": {"field": "v", "type": "quantitative", "axis": null}, "order": {"field": "d", "type": "quantitative"}}},
  {"transform": [{"filter": "datum.s=='exp' && !datum.k"}], "mark": {"type": "line", "orient": "horizontal", "color": "#009900", "strokeWidth": 3.5, "strokeDash": [11,5]},
   "encoding": {"y": {"field": "d", "type": "quantitative", "axis": null}, "x": {"field": "v", "type": "quantitative", "axis": null}, "order": {"field": "d", "type": "quantitative"}}},
  {"transform": [{"filter": "datum.s=='cov' && !datum.k"}], "mark": {"type": "line", "orient": "horizontal", "color": "#1f55ff", "strokeWidth": 3.5, "strokeDash": [11,5]},
   "encoding": {"y": {"field": "d", "type": "quantitative", "axis": null}, "x": {"field": "v", "type": "quantitative", "axis": null}, "order": {"field": "d", "type": "quantitative"}}},
  {"transform": [{"filter": "datum.k=='lead'"}], "mark": {"type": "rule", "strokeWidth": 2},
   "encoding": {"y": {"field": "d", "type": "quantitative", "axis": null}, "y2": {"field": "d2"}, "x": {"field": "v", "type": "quantitative", "axis": null}, "x2": {"field": "v2"},
    "color": {"field": "s", "type": "nominal", "scale": {"domain": ["note","wcd","o2","exp","cov"], "range": ["#000000","#000000","#cc0000","#009900","#1f55ff"]}, "legend": null}}},
  {"transform": [{"filter": "datum.k=='text'"}], "mark": {"type": "text", "fontSize": 18, "align": "center", "baseline": "middle"},
   "encoding": {"y": {"field": "d", "type": "quantitative", "axis": null}, "x": {"field": "v", "type": "quantitative", "axis": null}, "text": {"field": "t"},
    "color": {"field": "s", "type": "nominal", "scale": {"domain": ["note","wcd","o2","exp","cov"], "range": ["#000000","#000000","#cc0000","#009900","#1f55ff"]}, "legend": null}}}
 ]},
{"width": 409, "height": 119,
 "data": {"name": "rows"}, "transform": [{"filter": "datum.p=='d2'"}],
 "resolve": {"axis": {"x": "independent", "y": "independent"}},
 "layer": [
  {"transform": [{"filter": "datum.s=='wcd' && !datum.k"}], "mark": {"type": "area", "orient": "horizontal", "color": "#cccccc"},
   "encoding": {"y": {"field": "d", "type": "quantitative", "scale": {"domain": [300,1400], "reverse": true, "nice": false, "zero": false}, "axis": {"orient": "left", "values": [400,600,800,1000,1200,1400], "labels": false, "title": null}},
    "x": {"field": "v", "type": "quantitative", "stack": "zero", "scale": {"domain": [-0.09,0.02], "nice": false, "zero": false}, "axis": {"orient": "bottom", "values": [-0.08,-0.06,-0.04,-0.02,0], "format": ".2f", "title": "Tg m⁻¹ y⁻¹"}}}},
  {"transform": [{"filter": "datum.s=='wcd' && !datum.k"}], "mark": {"type": "line", "orient": "horizontal", "color": "black", "strokeWidth": 5},
   "encoding": {"y": {"field": "d", "type": "quantitative", "axis": {"orient": "right", "values": [400,600,800,1000,1200,1400], "labels": false, "title": null}},
    "x": {"field": "v", "type": "quantitative", "axis": {"orient": "top", "values": [-0.08,-0.06,-0.04,-0.02,0], "labels": false, "title": null}}, "order": {"field": "d", "type": "quantitative"}}},
  {"transform": [{"filter": "datum.s=='o2' && !datum.k"}], "mark": {"type": "line", "orient": "horizontal", "color": "#cc0000", "strokeWidth": 3.5, "strokeDash": [11,5]},
   "encoding": {"y": {"field": "d", "type": "quantitative", "axis": null}, "x": {"field": "v", "type": "quantitative", "axis": null}, "order": {"field": "d", "type": "quantitative"}}},
  {"transform": [{"filter": "datum.s=='exp' && !datum.k"}], "mark": {"type": "line", "orient": "horizontal", "color": "#009900", "strokeWidth": 3.5, "strokeDash": [11,5]},
   "encoding": {"y": {"field": "d", "type": "quantitative", "axis": null}, "x": {"field": "v", "type": "quantitative", "axis": null}, "order": {"field": "d", "type": "quantitative"}}},
  {"transform": [{"filter": "datum.s=='cov' && !datum.k"}], "mark": {"type": "line", "orient": "horizontal", "color": "#1f55ff", "strokeWidth": 3.5, "strokeDash": [11,5]},
   "encoding": {"y": {"field": "d", "type": "quantitative", "axis": null}, "x": {"field": "v", "type": "quantitative", "axis": null}, "order": {"field": "d", "type": "quantitative"}}},
  {"transform": [{"filter": "datum.k=='lead'"}], "mark": {"type": "rule", "strokeWidth": 2.5},
   "encoding": {"y": {"field": "d", "type": "quantitative", "axis": null}, "y2": {"field": "d2"}, "x": {"field": "v", "type": "quantitative", "axis": null}, "x2": {"field": "v2"},
    "color": {"field": "s", "type": "nominal", "scale": {"domain": ["note","wcd","o2","exp","cov"], "range": ["#000000","#000000","#cc0000","#009900","#1f55ff"]}, "legend": null}}},
  {"transform": [{"filter": "datum.k=='text'"}], "mark": {"type": "text", "fontSize": 18, "align": "center", "baseline": "middle"},
   "encoding": {"y": {"field": "d", "type": "quantitative", "axis": null}, "x": {"field": "v", "type": "quantitative", "axis": null}, "text": {"field": "t"},
    "color": {"field": "s", "type": "nominal", "scale": {"domain": ["note","wcd","o2","exp","cov"], "range": ["#000000","#000000","#cc0000","#009900","#1f55ff"]}, "legend": null}}}
 ]},
{"width": 10, "height": 86, "data": {"values": [{"z": 0}]}, "mark": {"type": "point", "opacity": 0}, "encoding": {}},
{"width": 10, "height": 86, "data": {"values": [{"z": 0}]}, "mark": {"type": "point", "opacity": 0}, "encoding": {}},
{"width": 413, "height": 119, "title": {"text": "(e) ETNP -- impact of El Niño on ODZ volume"},
 "data": {"name": "rows"}, "transform": [{"filter": "datum.p=='e1'"}],
 "resolve": {"axis": {"x": "independent", "y": "independent"}},
 "layer": [
  {"mark": {"type": "area", "orient": "horizontal", "color": "#cccccc"},
   "encoding": {"y": {"field": "d", "type": "quantitative", "scale": {"domain": [0,300], "reverse": true, "nice": false, "zero": false}, "axis": {"orient": "left", "values": [0,50,100,150,200,250,300], "format": "d", "title": "Depth (m)", "titleX": -62, "titleY": 122}},
    "x": {"field": "v", "type": "quantitative", "stack": "zero", "scale": {"domain": [-3.5,3.5], "nice": false, "zero": false}, "axis": {"orient": "bottom", "ticks": false, "labels": false, "title": null}}}},
  {"mark": {"type": "line", "orient": "horizontal", "color": "black", "strokeWidth": 6.5},
   "encoding": {"y": {"field": "d", "type": "quantitative", "axis": {"orient": "right", "values": [0,50,100,150,200,250,300], "labels": false, "title": null}},
    "x": {"field": "v", "type": "quantitative", "axis": {"orient": "top", "ticks": false, "labels": false, "title": null}}, "order": {"field": "d", "type": "quantitative"}}}
 ]},
{"width": 409, "height": 119, "title": {"text": "(f) ETSP -- impact of El Niño on ODZ volume"},
 "data": {"name": "rows"}, "transform": [{"filter": "datum.p=='f1'"}],
 "resolve": {"axis": {"x": "independent", "y": "independent"}},
 "layer": [
  {"mark": {"type": "area", "orient": "horizontal", "color": "#cccccc"},
   "encoding": {"y": {"field": "d", "type": "quantitative", "scale": {"domain": [0,300], "reverse": true, "nice": false, "zero": false}, "axis": {"orient": "left", "values": [0,50,100,150,200,250,300], "labels": false, "title": null}},
    "x": {"field": "v", "type": "quantitative", "stack": "zero", "scale": {"domain": [-3.5,3.5], "nice": false, "zero": false}, "axis": {"orient": "bottom", "ticks": false, "labels": false, "title": null}}}},
  {"mark": {"type": "line", "orient": "horizontal", "color": "black", "strokeWidth": 6.5},
   "encoding": {"y": {"field": "d", "type": "quantitative", "axis": {"orient": "right", "values": [0,50,100,150,200,250,300], "labels": false, "title": null}},
    "x": {"field": "v", "type": "quantitative", "axis": {"orient": "top", "ticks": false, "labels": false, "title": null}}, "order": {"field": "d", "type": "quantitative"}}}
 ]},
{"width": 413, "height": 119,
 "data": {"name": "rows"}, "transform": [{"filter": "datum.p=='e2'"}],
 "resolve": {"axis": {"x": "independent", "y": "independent"}},
 "layer": [
  {"mark": {"type": "area", "orient": "horizontal", "color": "#cccccc"},
   "encoding": {"y": {"field": "d", "type": "quantitative", "scale": {"domain": [300,1400], "reverse": true, "nice": false, "zero": false}, "axis": {"orient": "left", "values": [400,600,800,1000,1200], "format": "d", "title": null}},
    "x": {"field": "v", "type": "quantitative", "stack": "zero", "scale": {"domain": [-3.5,3.5], "nice": false, "zero": false}, "axis": {"orient": "bottom", "values": [-3,-2,-1,0,1,2,3], "format": "d", "title": "10¹⁰ m³ m⁻¹"}}}},
  {"mark": {"type": "line", "orient": "horizontal", "color": "black", "strokeWidth": 6.5},
   "encoding": {"y": {"field": "d", "type": "quantitative", "axis": {"orient": "right", "values": [400,600,800,1000,1200], "labels": false, "title": null}},
    "x": {"field": "v", "type": "quantitative", "axis": {"orient": "top", "values": [-3,-2,-1,0,1,2,3], "labels": false, "title": null}}, "order": {"field": "d", "type": "quantitative"}}}
 ]},
{"width": 409, "height": 119,
 "data": {"name": "rows"}, "transform": [{"filter": "datum.p=='f2'"}],
 "resolve": {"axis": {"x": "independent", "y": "independent"}},
 "layer": [
  {"mark": {"type": "area", "orient": "horizontal", "color": "#cccccc"},
   "encoding": {"y": {"field": "d", "type": "quantitative", "scale": {"domain": [300,1400], "reverse": true, "nice": false, "zero": false}, "axis": {"orient": "left", "values": [400,600,800,1000,1200], "labels": false, "title": null}},
    "x": {"field": "v", "type": "quantitative", "stack": "zero", "scale": {"domain": [-3.5,3.5], "nice": false, "zero": false}, "axis": {"orient": "bottom", "values": [-3,-2,-1,0,1,2,3], "format": "d", "title": "10¹⁰ m³ m⁻¹"}}}},
  {"mark": {"type": "line", "orient": "horizontal", "color": "black", "strokeWidth": 6.5},
   "encoding": {"y": {"field": "d", "type": "quantitative", "axis": {"orient": "right", "values": [400,600,800,1000,1200], "labels": false, "title": null}},
    "x": {"field": "v", "type": "quantitative", "axis": {"orient": "top", "values": [-3,-2,-1,0,1,2,3], "labels": false, "title": null}}, "order": {"field": "d", "type": "quantitative"}}}
 ]}
]
}
